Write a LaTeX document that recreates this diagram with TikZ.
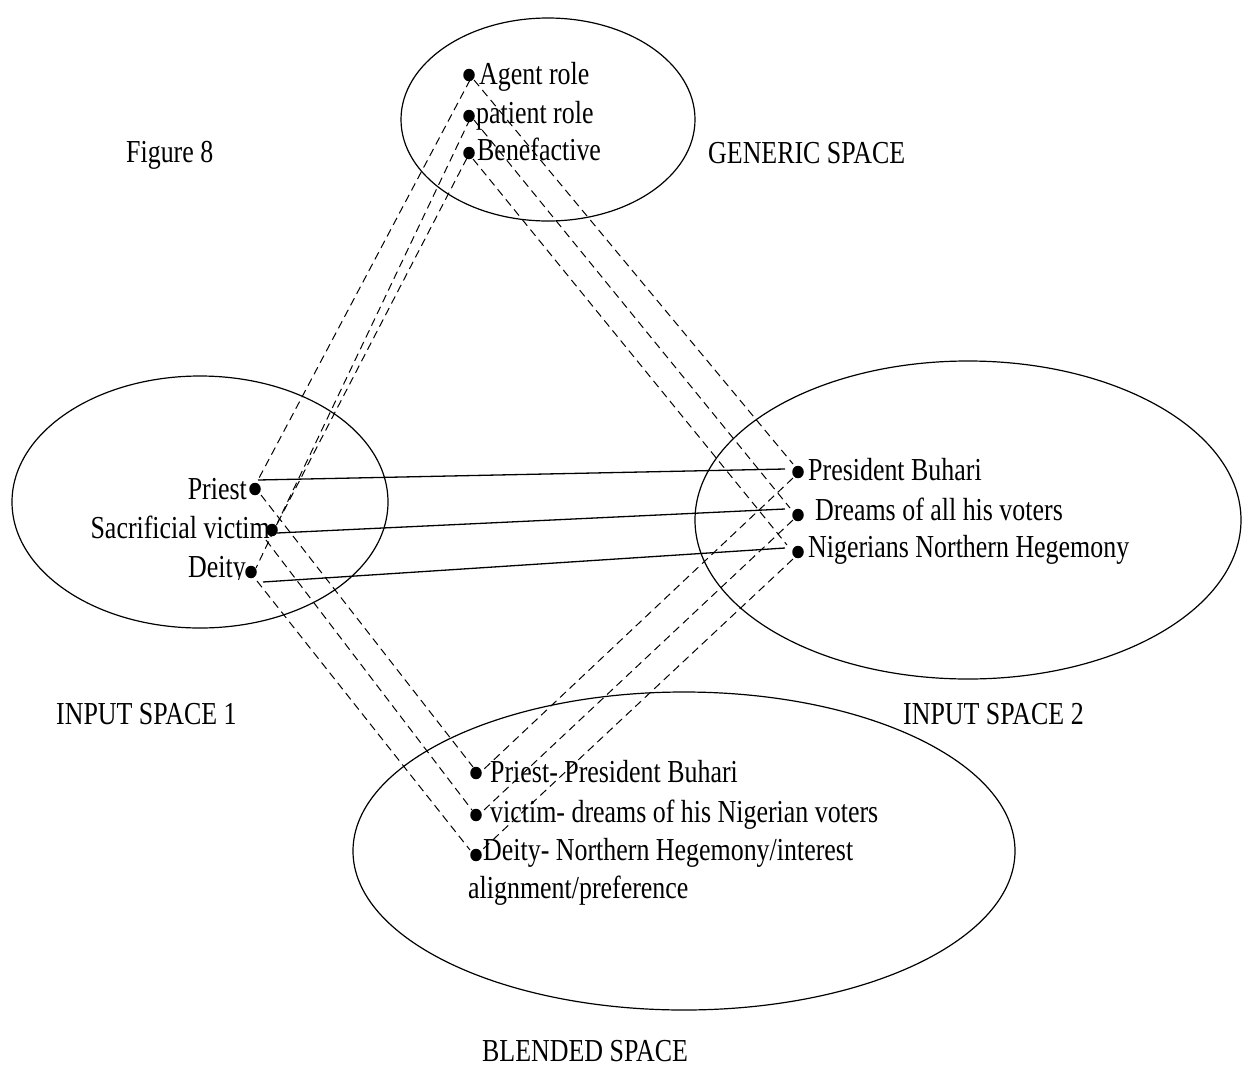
\documentclass[tikz,border=0pt]{standalone}
\usepackage{fontspec}
\setmainfont{Liberation Serif}[FakeStretch=0.81]
\usetikzlibrary{calc,shapes.geometric}
\begin{document}
\begin{tikzpicture}[x=1pt,y=-1pt,
  space/.style={draw, ellipse, line width=1.2pt, inner sep=0pt},
  pt/.style={ellipse, fill, inner sep=0pt, minimum width=11.5pt, minimum height=12.5pt},
  lbl/.style={inner sep=0pt, font=\fontsize{32}{38}\selectfont},
  map/.style={dash pattern=on 8pt off 5pt, line width=1pt},
  link/.style={line width=1.3pt}]
\useasboundingbox (0,0) rectangle (1243,1066);

% the four mental spaces
\node[space, minimum width=294pt, minimum height=203pt] (generic) at (548,119.5) {};
\node[space, minimum width=376pt, minimum height=252pt] (in1) at (200,502) {};
\node[space, minimum width=546pt, minimum height=318pt] (in2) at (968,520) {};
\node[space, minimum width=662pt, minimum height=318pt] (blend) at (684,851) {};

% titles
\node[lbl, anchor=base west] (fig) at (126,162) {Figure 8};
\node[lbl, anchor=base west] (tgen) at (708,163) {GENERIC SPACE};
\node[lbl, anchor=base west] (tin1) at (56,724) {INPUT SPACE 1};
\node[lbl, anchor=base west] (tin2) at (903,724) {INPUT SPACE 2};
\node[lbl, anchor=base west] (tbl) at (482,1061) {BLENDED SPACE};

% generic space elements
\node[pt] (ag) at (469,75) {};
\node[pt] (pa) at (469,116) {};
\node[pt] (be) at (469,153) {};
\node[lbl, anchor=base west] (tag) at (479,84) {Agent role};
\node[lbl, anchor=base west] (tpa) at (476,123) {patient role};
\node[lbl, anchor=base west] (tbe) at (477,160) {Benefactive};

% input space 1 elements
\node[pt] (pr) at (255,489) {};
\node[pt] (sv) at (272,530) {};
\node[pt] (de) at (251,572) {};
\node[lbl, anchor=base east] (tpr) at (247,499) {Priest};
\node[lbl, anchor=base east] (tsv) at (270,538) {Sacrificial victim};
\begin{scope}
  \clip (150,540) rectangle (250,579);
  \node[lbl, anchor=base east] (tde) at (246,577) {Deity};
\end{scope}

% input space 2 elements
\node[pt] (pb) at (798,472) {};
\node[pt] (dr) at (798,515) {};
\node[pt] (ng) at (798,552) {};
\node[lbl, anchor=base west] (tpb) at (808,480) {President Buhari};
\node[lbl, anchor=base west] (tdr) at (815,520) {Dreams of all his voters};
\node[lbl, anchor=base west] (tng) at (808,557) {Nigerians Northern Hegemony};

% blended space elements
\node[pt] (bp) at (476,773) {};
\node[pt] (bv) at (476,815) {};
\node[pt] (bd) at (476,855) {};
\node[lbl, anchor=base west] (tbp) at (490,782) {Priest- President Buhari};
\node[lbl, anchor=base west] (tbv) at (490,822) {victim- dreams of his Nigerian voters};
\node[lbl, anchor=base west] (tbd) at (483,860) {Deity- Northern Hegemony/interest};
\node[lbl, anchor=base west] (tbd2) at (468,898) {alignment/preference};

% cross-space counterpart links
\draw[link] ($(pr)+(3,-9)$) -- ($(pb)+(-13,-3)$);
\draw[link] ($(sv)+(5,3)$) -- ($(dr)+(-13,-6)$);
\draw[link] ($(de)+(12,10)$) -- ($(ng)+(-13,-4)$);

% generic space to input space 1
\draw[map] ($(ag)+(1,5)$) -- ($(pr)+(3,-9)$);
\draw[map] ($(pa)+(1,3)$) -- ($(de)+(5,-4)$);
\draw[map] ($(be)+(-2,5)$) -- ($(sv)+(4,-4)$);

% generic space to input space 2
\draw[map] ($(ag)+(5,5)$) -- ($(pb)+(-5,-8)$);
\draw[map] ($(pa)+(5,4)$) -- ($(dr)+(-8,-7)$);
\draw[map] ($(be)+(4,6)$) -- ($(ng)+(-11,-7)$);

% input space 1 to blended space
\draw[map] ($(pr)+(6,6)$) -- ($(bp)+(-3,-6)$);
\draw[map] ($(sv)+(-6,10)$) -- ($(bv)+(-4,-5)$);
\draw[map] ($(de)+(6,9)$) -- ($(bd)+(-6,-5)$);

% input space 2 to blended space
\draw[map] ($(pb)+(-5,6)$) -- ($(bp)+(7,-3)$);
\draw[map] ($(dr)+(-5,5)$) -- ($(bv)+(8,-5)$);
\draw[map] ($(ng)+(-5,7)$) -- ($(bd)+(6,-5)$);
\end{tikzpicture}
\end{document}
